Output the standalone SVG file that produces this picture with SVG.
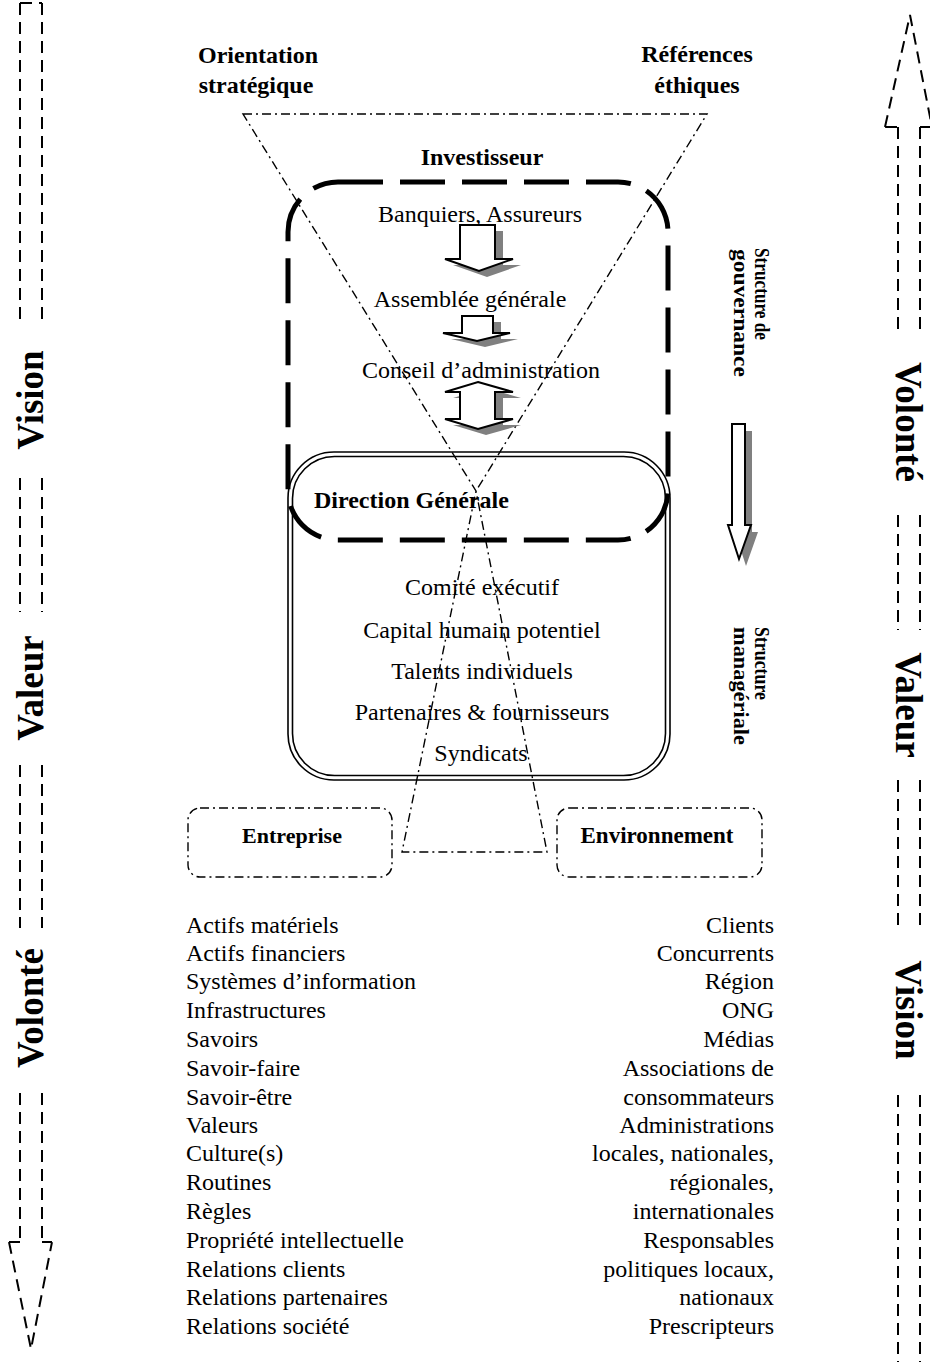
<svg xmlns="http://www.w3.org/2000/svg" width="930" height="1362" viewBox="0 0 930 1362">
<defs>
<style>
.t{font-family:"Liberation Serif","Times New Roman",serif;font-size:24px;fill:#000}
.b{font-family:"Liberation Serif","Times New Roman",serif;font-size:24px;font-weight:bold;fill:#000}
.big{font-family:"Liberation Serif","Times New Roman",serif;font-size:37px;font-weight:bold;fill:#000}
.sm{font-family:"Liberation Serif","Times New Roman",serif;font-size:20px;font-weight:bold;fill:#000}
.m{text-anchor:middle}
.e{text-anchor:end}
.axis{fill:none;stroke:#000;stroke-width:2;stroke-dasharray:12 7}
.dd{fill:none;stroke:#000;stroke-width:1.4;stroke-dasharray:9 4 2 4}
.blk{fill:#fff;stroke:#000;stroke-width:2;stroke-linejoin:miter}
.sh{fill:#808080;stroke:none}
</style>
</defs>

<g id="axis-left">
<path class="axis" d="M20,3 H42 M20,3 V322 M42,3 V322 M20,478 V612 M42,478 V612 M20,765 V928 M42,765 V928 M20,1093 V1242 M42,1093 V1242 M9,1242 H20 M42,1242 H52 M9,1242 L31,1349 L52,1242"/>
<text class="big m" transform="translate(43,400) rotate(-90)">Vision</text>
<text class="big m" transform="translate(43,688) rotate(-90)">Valeur</text>
<text class="big m" transform="translate(43,1008) rotate(-90)">Volonté</text>
</g>

<g id="axis-right">
<path class="axis" d="M885,127 L910,15 L932,127 M885,127 H898 M920,127 H932 M898,127 V330 M920,127 V330 M898,515 V630 M920,515 V630 M898,780 V925 M920,780 V925 M898,1095 V1362 M920,1095 V1362"/>
<text class="big m" transform="translate(896,422) rotate(90)">Volonté</text>
<text class="big m" transform="translate(896,705) rotate(90)">Valeur</text>
<text class="big m" transform="translate(896,1010) rotate(90)">Vision</text>
</g>

<g id="hourglass">
<path class="dd" d="M243,114 H707 L476,491 L402,852 H547 L476,491 Z"/>
</g>

<g id="labels-top">
<text class="b m" x="258" y="63">Orientation</text>
<text class="b m" x="256" y="93">stratégique</text>
<text class="b m" x="697" y="62">Références</text>
<text class="b m" x="697" y="93">éthiques</text>
</g>

<g id="gouvernance">
<rect x="288" y="182" width="380" height="358" rx="50" fill="none" stroke="#000" stroke-width="5" stroke-dasharray="45 17"/>
<text class="b m" x="482" y="165">Investisseur</text>
<text class="t m" x="480" y="222">Banquiers, Assureurs</text>
<text class="t m" x="470" y="307">Assemblée générale</text>
<text class="t m" x="481" y="378">Conseil d’administration</text>
</g>

<g id="direction">
<rect x="288" y="452" width="382" height="328" rx="46" fill="none" stroke="#000" stroke-width="1.6"/>
<rect x="292.5" y="456.5" width="373" height="319" rx="42" fill="none" stroke="#000" stroke-width="1.6"/>
<text class="b" x="314" y="508">Direction Générale</text>
<text class="t m" x="482" y="595">Comité exécutif</text>
<text class="t m" x="482" y="638">Capital humain potentiel</text>
<text class="t m" x="482" y="679">Talents individuels</text>
<text class="t m" x="482" y="720">Partenaires &amp; fournisseurs</text>
<text class="t m" x="481" y="761">Syndicats</text>
</g>

<g id="block-arrows">
<path class="sh" d="M460,225 H495 V259 H513 L479,271 L445,259 H460 Z" transform="translate(8,6)"/>
<path class="blk" d="M460,225 H495 V259 H513 L479,271 L445,259 H460 Z"/>
<path class="sh" d="M462,316 H493 V333 H510 L477,341 L443,333 H462 Z" transform="translate(8,6)"/>
<path class="blk" d="M462,316 H493 V333 H510 L477,341 L443,333 H462 Z"/>
<path class="sh" d="M478,382 L513,392 H495 V419 H513 L478,429 L445,419 H460 V392 H445 Z" transform="translate(8,6)"/>
<path class="blk" d="M478,382 L513,392 H495 V419 H513 L478,429 L445,419 H460 V392 H445 Z"/>
<path class="sh" d="M732,424 H745 V525 H751 L739,559 L728,525 H732 Z" transform="translate(7,7)"/>
<path class="blk" d="M732,424 H745 V525 H751 L739,559 L728,525 H732 Z"/>
</g>

<g id="structure-labels">
<text class="sm" transform="translate(755,248) rotate(90)" textLength="92" lengthAdjust="spacingAndGlyphs">Structure de</text>
<text class="sm" transform="translate(734,249) rotate(90)" textLength="128" lengthAdjust="spacingAndGlyphs">gouvernance</text>
<text class="sm" transform="translate(755,627) rotate(90)" textLength="73" lengthAdjust="spacingAndGlyphs">Structure</text>
<text class="sm" transform="translate(734,627) rotate(90)" textLength="118" lengthAdjust="spacingAndGlyphs">managériale</text>
</g>

<g id="entreprise">
<rect class="dd" x="188" y="808" width="204" height="69" rx="12"/>
<text class="b m" x="292" y="843" style="font-size:22px">Entreprise</text>
</g>

<g id="environnement">
<rect class="dd" x="557" y="808" width="205" height="69" rx="12"/>
<text class="b m" x="657" y="843" style="font-size:23px">Environnement</text>
</g>

<g id="liste-entreprise">
<text class="t" x="186" y="933">Actifs matériels</text>
<text class="t" x="186" y="961">Actifs financiers</text>
<text class="t" x="186" y="989">Systèmes d’information</text>
<text class="t" x="186" y="1018">Infrastructures</text>
<text class="t" x="186" y="1047">Savoirs</text>
<text class="t" x="186" y="1076">Savoir-faire</text>
<text class="t" x="186" y="1105">Savoir-être</text>
<text class="t" x="186" y="1133">Valeurs</text>
<text class="t" x="186" y="1161">Culture(s)</text>
<text class="t" x="186" y="1190">Routines</text>
<text class="t" x="186" y="1219">Règles</text>
<text class="t" x="186" y="1248">Propriété intellectuelle</text>
<text class="t" x="186" y="1277">Relations clients</text>
<text class="t" x="186" y="1305">Relations partenaires</text>
<text class="t" x="186" y="1334">Relations société</text>
</g>

<g id="liste-environnement">
<text class="t e" x="774" y="933">Clients</text>
<text class="t e" x="774" y="961">Concurrents</text>
<text class="t e" x="774" y="989">Région</text>
<text class="t e" x="774" y="1018">ONG</text>
<text class="t e" x="774" y="1047">Médias</text>
<text class="t e" x="774" y="1076">Associations de</text>
<text class="t e" x="774" y="1105">consommateurs</text>
<text class="t e" x="774" y="1133">Administrations</text>
<text class="t e" x="774" y="1161">locales, nationales,</text>
<text class="t e" x="774" y="1190">régionales,</text>
<text class="t e" x="774" y="1219">internationales</text>
<text class="t e" x="774" y="1248">Responsables</text>
<text class="t e" x="774" y="1277">politiques locaux,</text>
<text class="t e" x="774" y="1305">nationaux</text>
<text class="t e" x="774" y="1334">Prescripteurs</text>
</g>
</svg>
